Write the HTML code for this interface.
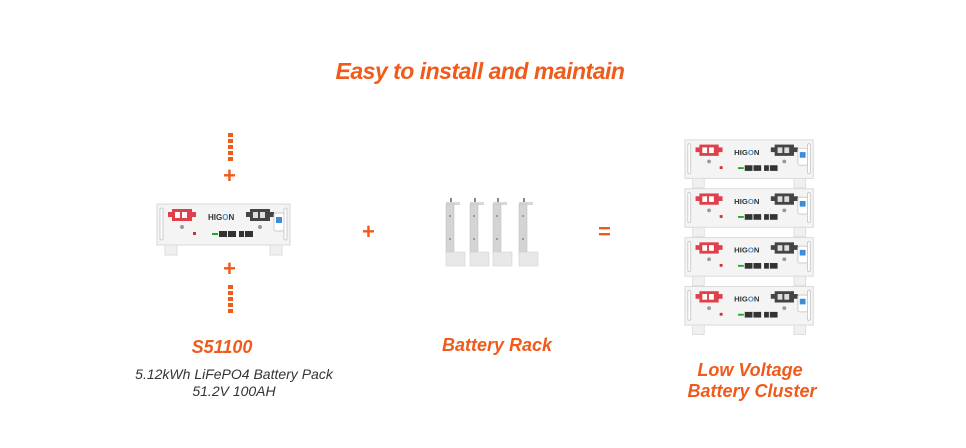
<!DOCTYPE html>
<html><head><style>
body{margin:0;background:#fff;width:966px;height:448px;overflow:hidden;font-family:"Liberation Sans",sans-serif}
.t{position:absolute;color:#f05a1a;font-weight:bold;font-style:italic;white-space:nowrap;transform:translateX(-50%)}
.s{position:absolute;color:#333;font-style:italic;font-size:14px;white-space:nowrap;transform:translateX(-50%)}
</style></head><body>
<svg width="966" height="448" style="position:absolute;left:0;top:0">
<defs>
<g id="bat">
<rect x="2" y="2" width="133" height="41" fill="#f4f4f4" stroke="#d8d8d8"/>
<rect x="5" y="6" width="3" height="32" rx="1.5" fill="#fff" stroke="#ccc"/>
<rect x="129" y="6" width="3" height="32" rx="1.5" fill="#fff" stroke="#ccc"/>
<rect x="10" y="43" width="12" height="10" fill="#f0f0f0" stroke="#ddd"/>
<rect x="115" y="43" width="12" height="10" fill="#f0f0f0" stroke="#ddd"/>
<rect x="17" y="7" width="20" height="12" fill="#e0404a"/>
<rect x="13" y="10" width="28" height="5" fill="#e0404a"/>
<rect x="20" y="10" width="5" height="6" fill="#fff"/><rect x="27" y="10" width="5" height="6" fill="#fff"/>
<circle cx="27" cy="25" r="2" fill="#999"/>
<rect x="95" y="7" width="20" height="12" fill="#444"/>
<rect x="91" y="10" width="28" height="5" fill="#444"/>
<rect x="98" y="10" width="5" height="6" fill="#ddd"/><rect x="105" y="10" width="5" height="6" fill="#ddd"/>
<circle cx="105" cy="25" r="2" fill="#999"/>
<rect x="119" y="11" width="10" height="18" rx="2" fill="#fff" stroke="#ccc"/>
<rect x="121" y="15" width="6" height="6" fill="#3a8ed8"/>
<text x="53" y="18" font-size="8" font-weight="bold" fill="#333" font-family="Liberation Sans">HIG<tspan fill="#3a8ed8">O</tspan>N</text>
<rect x="38" y="30" width="3" height="3" fill="#c33"/>
<rect x="57" y="31" width="6" height="2" fill="#2a2"/>
<rect x="64" y="29" width="8" height="6" fill="#333"/><rect x="73" y="29" width="8" height="6" fill="#333"/>
<rect x="84" y="29" width="5" height="6" fill="#333"/><rect x="90" y="29" width="8" height="6" fill="#333"/>
</g>
<g id="rack">
<rect x="0" y="0" width="14" height="3" fill="#d8d8d8"/>
<rect x="0" y="2" width="8" height="50" fill="#d4d4d4" stroke="#bbb" stroke-width=".5"/>
<circle cx="4" cy="14" r="1" fill="#888"/><circle cx="4" cy="37" r="1" fill="#888"/>
<rect x="0" y="50" width="19" height="14" fill="#e8e8e8" stroke="#ccc" stroke-width=".5"/>
<rect x="4" y="-4" width="2" height="4" fill="#888"/>
</g>
</defs>
<g fill="#f05a1a">
<rect x="228" y="133" width="5" height="4"/><rect x="228" y="139" width="5" height="4"/><rect x="228" y="145" width="5" height="4"/><rect x="228" y="151" width="5" height="4"/><rect x="228" y="157" width="5" height="4"/>
<rect x="228" y="285" width="5" height="4"/><rect x="228" y="291" width="5" height="4"/><rect x="228" y="297" width="5" height="4"/><rect x="228" y="303" width="5" height="4"/><rect x="228" y="309" width="5" height="4"/>
</g>
<use href="#bat" x="155" y="202"/>
<use href="#rack" x="446" y="202"/>
<use href="#rack" x="470" y="202"/>
<use href="#rack" x="493" y="202"/>
<use href="#rack" x="519" y="202"/>
<g transform="translate(683,138) scale(0.965,0.94)">
<use href="#bat" x="0" y="0"/><use href="#bat" x="0" y="52"/><use href="#bat" x="0" y="104"/><use href="#bat" x="0" y="156"/>
</g>
</svg>
<div class="t" style="left:480px;top:58px;font-size:23px;letter-spacing:-0.5px">Easy to install and maintain</div>
<div class="t" style="left:229px;top:163px;font-size:22px">+</div>
<div class="t" style="left:229px;top:256px;font-size:22px">+</div>
<div class="t" style="left:368px;top:219px;font-size:22px">+</div>
<div class="t" style="left:604px;top:219px;font-size:22px">=</div>
<div class="t" style="left:222px;top:337px;font-size:18px">S51100</div>
<div class="s" style="left:234px;top:366px">5.12kWh LiFePO4 Battery Pack</div>
<div class="s" style="left:234px;top:383px">51.2V 100AH</div>
<div class="t" style="left:497px;top:335px;font-size:18px">Battery Rack</div>
<div class="t" style="left:750px;top:360px;font-size:18px">Low Voltage</div>
<div class="t" style="left:752px;top:381px;font-size:18px">Battery Cluster</div>
</body></html>
